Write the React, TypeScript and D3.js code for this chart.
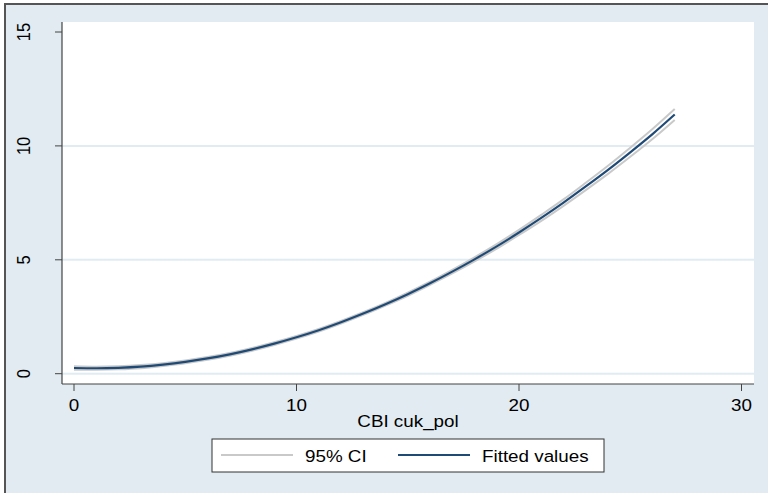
import React, { useEffect, useRef } from "react";
import * as d3 from "d3";

// values
const xValues = [0, 1, 2, 3, 4, 5, 6, 7, 8, 9, 10, 11, 12, 13, 14, 15, 16, 17, 18, 19, 20, 21, 22, 23, 24, 25, 26, 27];
const fitted = [0.25, 0.24, 0.26, 0.31, 0.4, 0.52, 0.67, 0.85, 1.07, 1.32, 1.6, 1.91, 2.26, 2.64, 3.05, 3.49, 3.97, 4.48, 5.02, 5.59, 6.2, 6.84, 7.51, 8.22, 8.95, 9.72, 10.52, 11.38];
const upperCI = [0.33, 0.31, 0.33, 0.38, 0.46, 0.58, 0.73, 0.91, 1.13, 1.38, 1.66, 1.97, 2.32, 2.7, 3.11, 3.56, 4.04, 4.56, 5.11, 5.69, 6.31, 6.97, 7.65, 8.38, 9.13, 9.92, 10.74, 11.62];
const lowerCI = [0.17, 0.17, 0.19, 0.24, 0.34, 0.46, 0.61, 0.79, 1.01, 1.26, 1.54, 1.85, 2.2, 2.58, 2.99, 3.42, 3.9, 4.4, 4.93, 5.49, 6.09, 6.71, 7.37, 8.06, 8.77, 9.52, 10.3, 11.14];
const xTicks = [0, 10, 20, 30];
const yTicks = [0, 5, 10, 15];
const yGrid = [0, 5, 10];
const legendLabels = ["95% CI", "Fitted values"];

const W = 768;
const H = 493;
const FONT = "'Liberation Sans', Arial, sans-serif";
const FS = 16.5;
const STRETCH = 1.14; // the reference text is drawn wider than tall

const App: React.FC = () => {
  const ref = useRef<SVGSVGElement | null>(null);

  useEffect(() => {
    const svg = d3.select(ref.current);
    svg.selectAll("*").remove();

    const plot = { left: 62, right: 754, top: 22, bottom: 384 };

    const x = d3.scaleLinear().domain([0, 30]).range([74, 741.5]);
    const y = d3.scaleLinear().domain([0, 15]).range([373.7, 32]);

    // outer graph region
    svg.append("rect").attr("width", W).attr("height", H).attr("fill", "#ffffff");
    svg.append("rect")
      .attr("x", 5).attr("y", 4).attr("width", W + 20).attr("height", H + 20)
      .attr("fill", "#e1ebf1").attr("stroke", "#555").attr("stroke-width", 2);

    // plot region
    svg.append("rect")
      .attr("x", plot.left).attr("y", plot.top)
      .attr("width", plot.right - plot.left).attr("height", plot.bottom - plot.top)
      .attr("fill", "#ffffff");

    svg.append("g").selectAll("line").data(yGrid).enter().append("line")
      .attr("x1", plot.left).attr("x2", plot.right)
      .attr("y1", (d) => y(d)).attr("y2", (d) => y(d))
      .attr("stroke", "#e0ecf1").attr("stroke-width", 2);

    // CI lines and fitted line
    const pts = (vals: number[]) => vals.map((v, i) => [xValues[i], v] as [number, number]);
    const line = d3.line<[number, number]>()
      .x((d) => x(d[0])).y((d) => y(d[1]))
      .curve(d3.curveMonotoneX);

    [upperCI, lowerCI].forEach((vals) => {
      svg.append("path").attr("d", line(pts(vals))!)
        .attr("fill", "none").attr("stroke", "#c9c9c9").attr("stroke-width", 2);
    });
    svg.append("path").attr("d", line(pts(fitted))!)
      .attr("fill", "none").attr("stroke", "#1f4a76").attr("stroke-width", 2.2);

    // axes
    const axisCol = "#444";
    svg.append("line").attr("x1", plot.left).attr("x2", plot.left)
      .attr("y1", plot.top).attr("y2", plot.bottom).attr("stroke", axisCol).attr("stroke-width", 1.2);
    svg.append("line").attr("x1", plot.left).attr("x2", plot.right)
      .attr("y1", plot.bottom).attr("y2", plot.bottom).attr("stroke", axisCol).attr("stroke-width", 1.2);

    const label = (px: number, py: number, txt: string, anchor: string) =>
      svg.append("text")
        .attr("transform", `translate(${px},${py}) scale(${STRETCH},1)`)
        .attr("text-anchor", anchor).attr("font-family", FONT).attr("font-size", FS)
        .attr("fill", "#000").text(txt);

    xTicks.forEach((d) => {
      svg.append("line").attr("x1", x(d)).attr("x2", x(d))
        .attr("y1", plot.bottom).attr("y2", plot.bottom + 7).attr("stroke", axisCol);
      label(x(d), 411, String(d), "middle");
    });

    yTicks.forEach((d) => {
      svg.append("line").attr("x1", plot.left - 7).attr("x2", plot.left)
        .attr("y1", y(d)).attr("y2", y(d)).attr("stroke", axisCol);
      svg.append("text")
        .attr("transform", `translate(30,${y(d)}) rotate(-90) scale(1,${STRETCH})`)
        .attr("text-anchor", "middle").attr("font-family", FONT).attr("font-size", FS)
        .attr("fill", "#000").text(d);
    });

    label((plot.left + plot.right) / 2, 427, "CBI cuk_pol", "middle");

    // legend
    svg.append("rect").attr("x", 212).attr("y", 439).attr("width", 392).attr("height", 33)
      .attr("fill", "#fff").attr("stroke", "#333").attr("stroke-width", 1);
    const legendCols = ["#c9c9c9", "#1f4a76"];
    const legendX = [221, 398];
    legendLabels.forEach((lab, i) => {
      svg.append("line").attr("x1", legendX[i]).attr("x2", legendX[i] + 72)
        .attr("y1", 455).attr("y2", 455).attr("stroke", legendCols[i]).attr("stroke-width", 2);
      label(legendX[i] + 84, 462, lab, "start");
    });
  }, []);

  return (
    <svg
      ref={ref}
      width={W}
      height={H}
      viewBox={`0 0 ${W} ${H}`}
      style={{ position: "absolute", left: 0, top: 0 }}
    />
  );
};

export default App;
